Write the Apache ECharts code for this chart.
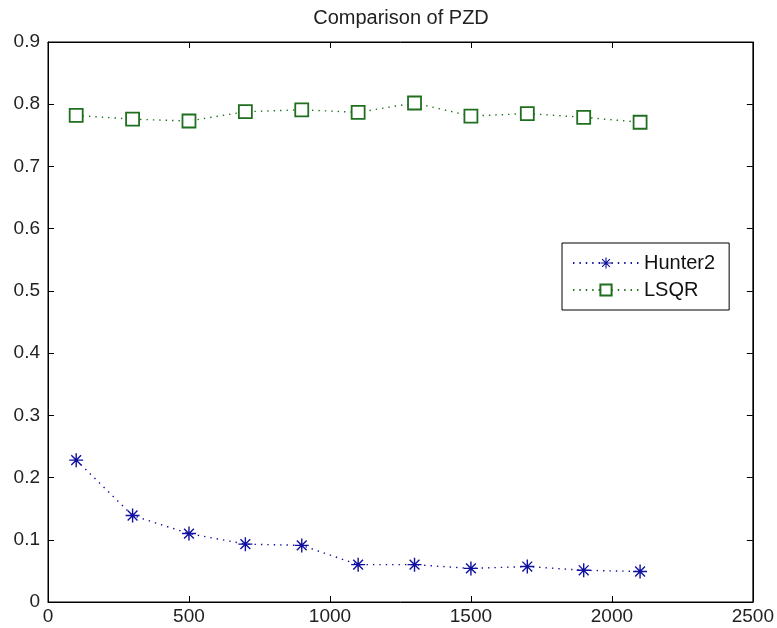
<!DOCTYPE html>
<html>
<head>
<meta charset="utf-8">
<script src="https://cdn.jsdelivr.net/npm/echarts@6/dist/echarts.min.js"></script>
<style>
  html, body { margin: 0; padding: 0; background: #fff; }
  #main { width: 777px; height: 628px; }
</style>
</head>
<body>
<div id="main"></div>
<script>
// x values (sample count)
const xValues = [100, 300, 500, 700, 900, 1100, 1300, 1500, 1700, 1900, 2100];
// PZD per method
const hunter2 = [0.228, 0.139, 0.110, 0.093, 0.091, 0.060, 0.060, 0.054, 0.057, 0.051, 0.049];
const lsqr = [0.782, 0.776, 0.773, 0.788, 0.791, 0.787, 0.802, 0.781, 0.785, 0.779, 0.771];

const font = 'Liberation Sans, Arial, sans-serif';
// asterisk marker like matlab '*'
const starPath = 'path://M-1,-10h2v20h-2z M-10,-1h20v2h-20z ' +
  'M-7.7,-6.3L-6.3,-7.7L7.7,6.3L6.3,7.7z M6.3,-7.7L7.7,-6.3L-6.3,7.7L-7.7,6.3z';

const pairs = (ys) => xValues.map((x, i) => [x, ys[i]]);

const tick = { show: true, inside: true, length: 6, lineStyle: { color: '#000', width: 1 } };
const line = { show: true, onZero: false, lineStyle: { color: '#000', width: 1 } };

const chart = echarts.init(document.getElementById('main'));
const option = {
  animation: false,
  backgroundColor: '#fff',
  title: {
    text: 'Comparison of PZD',
    left: 396,
    top: 3,
    textAlign: 'center',
    textStyle: { fontFamily: font, fontSize: 20, fontWeight: 'normal', color: '#222' }
  },
  legend: {
    orient: 'vertical',
    left: 562,
    top: 243,
    padding: [10, 14, 10, 10],
    itemGap: 7,
    itemWidth: 66,
    itemHeight: 14,
    backgroundColor: '#fff',
    borderColor: '#000',
    borderWidth: 1,
    textStyle: { fontFamily: font, fontSize: 20, color: '#111' },
    data: ['Hunter2', 'LSQR']
  },
  grid: { left: 48, right: 24, top: 42, bottom: 26, show: true, borderColor: '#000', borderWidth: 1 },
  xAxis: [
    {
      type: 'value', min: 0, max: 2500, interval: 500, position: 'bottom',
      axisLine: line,
      axisTick: tick,
      axisLabel: { fontFamily: font, fontSize: 19, color: '#222', margin: 5, formatter: (v) => String(v) },
      splitLine: { show: false }
    },
    {
      type: 'value', min: 0, max: 2500, interval: 500, position: 'top', show: true,
      axisLine: line,
      axisTick: tick,
      axisLabel: { show: false },
      splitLine: { show: false }
    }
  ],
  yAxis: [
    {
      type: 'value', min: 0, max: 0.9, interval: 0.1, position: 'left',
      axisLine: line,
      axisTick: tick,
      axisLabel: {
        fontFamily: font, fontSize: 19, color: '#222', margin: 8,
        formatter: (v) => (v === 0 ? '0' : v.toFixed(1))
      },
      splitLine: { show: false }
    },
    {
      type: 'value', min: 0, max: 0.9, interval: 0.1, position: 'right', show: true,
      axisLine: line,
      axisTick: tick,
      axisLabel: { show: false },
      splitLine: { show: false }
    }
  ],
  series: [
    {
      name: 'Hunter2',
      type: 'line',
      xAxisIndex: 0,
      yAxisIndex: 0,
      data: pairs(hunter2),
      symbol: starPath,
      symbolSize: 14,
      itemStyle: { color: '#10109e' },
      lineStyle: { color: '#10109e', width: 1.4, type: [1.4, 5] }
    },
    {
      name: 'LSQR',
      type: 'line',
      xAxisIndex: 0,
      yAxisIndex: 0,
      data: pairs(lsqr),
      symbol: 'rect',
      symbolSize: 13,
      itemStyle: { color: '#fff', borderColor: '#1f6f1f', borderWidth: 1.8 },
      lineStyle: { color: '#1f6f1f', width: 1.4, type: [1.4, 5] }
    }
  ]
};
chart.setOption(option);
</script>
</body>
</html>
